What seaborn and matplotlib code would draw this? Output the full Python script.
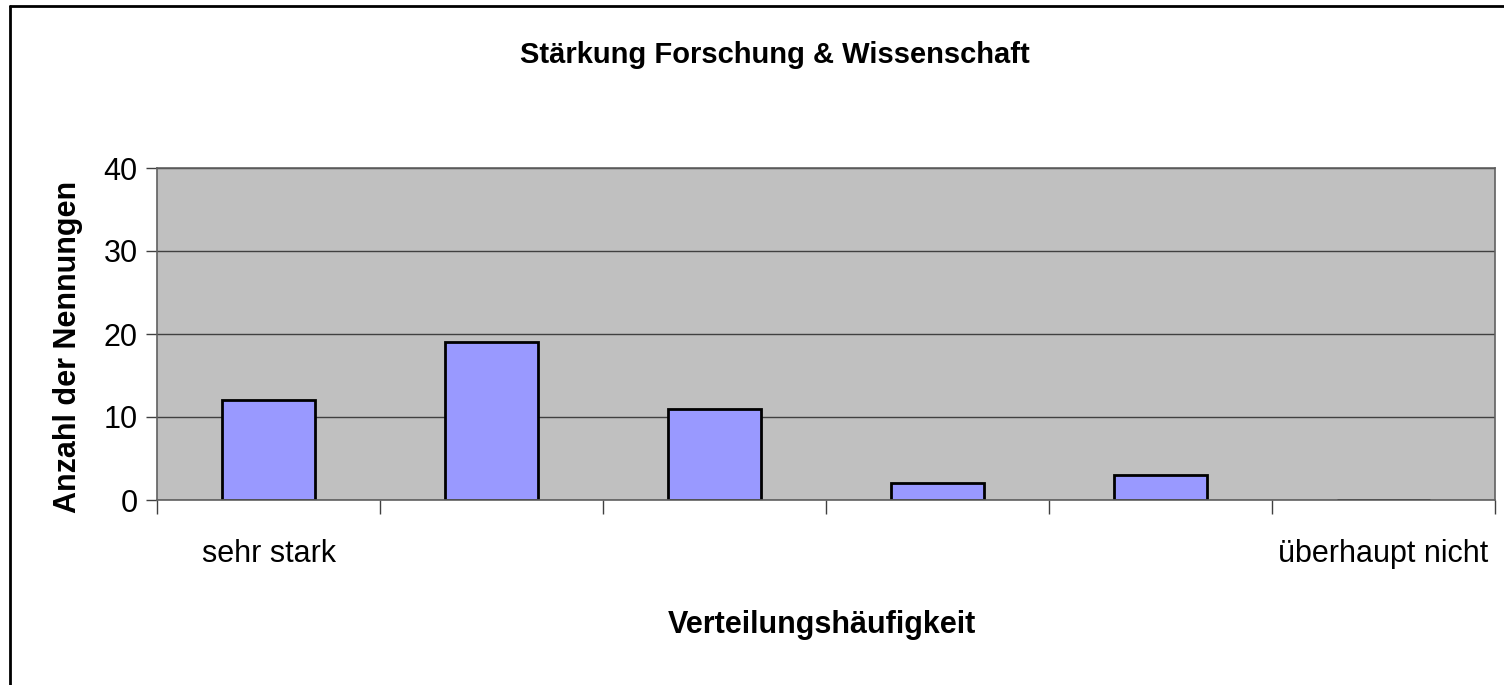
import matplotlib
matplotlib.use("Agg")
import matplotlib.pyplot as plt
from matplotlib.lines import Line2D
import seaborn as sns
import pandas as pd
import numpy as np

categories = ["1", "2", "3", "4", "5", "6"]
values = [12, 19, 11, 2, 3, 0]
tick_labels = ["sehr stark", "", "", "", "", "überhaupt nicht"]
y_ticks = [0, 10, 20, 30, 40]

sns.set_style("white")
plt.rcParams['font.family'] = ['Liberation Sans', 'DejaVu Sans']
plt.rcParams['text.color'] = 'black'
plt.rcParams['xtick.color'] = 'black'
plt.rcParams['ytick.color'] = 'black'

df = pd.DataFrame({"cat": categories, "val": values})

fig = plt.figure(figsize=(15.04, 6.85), dpi=100)
ax = fig.add_axes([157/1504, 1-500/685, (1495-157)/1504, (500-168)/685])
ax.set_facecolor("#C0C0C0")
ax.set_axisbelow(True)
ax.yaxis.grid(True, color="#404040", linewidth=1)

sns.barplot(data=df, x="cat", y="val", ax=ax, color="#9999FF", saturation=1,
            width=0.42, edgecolor="black", linewidth=2)

ax.set_xlim(-0.5, len(categories)-0.5)
ax.set_ylim(0, 40)
ax.set_yticks(y_ticks)
ax.set_yticklabels([str(t) for t in y_ticks], fontsize=22)
ax.set_xticks(range(len(categories)))
ax.set_xticklabels(tick_labels, fontsize=22)
ax.set_xticks(np.arange(-0.5, len(categories), 1), minor=True)
ax.tick_params(axis="x", which="major", length=0, pad=28, labelcolor="black", bottom=True)
ax.tick_params(axis="x", which="minor", length=10, width=1, color="#404040",
               direction="out", bottom=True)
ax.tick_params(axis="y", length=8, width=1, color="#404040", direction="out", pad=6,
               left=True, labelcolor="black")
for s in ax.spines.values():
    s.set_color("#606060")
    s.set_linewidth(1.2)
ax.set_xlabel("")
ax.set_ylabel("")

fig.text(775/1504, 1-55/685, "Stärkung Forschung & Wissenschaft", ha="center", va="center",
         fontsize=21, fontweight="bold", color="black")
fig.text(822/1504, 1-625/685, "Verteilungshäufigkeit", ha="center", va="center",
         fontsize=22, fontweight="bold", color="black")
fig.text(68/1504, 1-347/685, "Anzahl der Nennungen", ha="center", va="center",
         fontsize=22, fontweight="bold", rotation=90, color="black")

fig.add_artist(Line2D([10/1504, 10/1504], [0, 1-6/685], color="black", linewidth=2,
                      transform=fig.transFigure))
fig.add_artist(Line2D([10/1504, 1], [1-6/685, 1-6/685], color="black", linewidth=2,
                      transform=fig.transFigure))

fig.savefig("out.png", dpi=100)
